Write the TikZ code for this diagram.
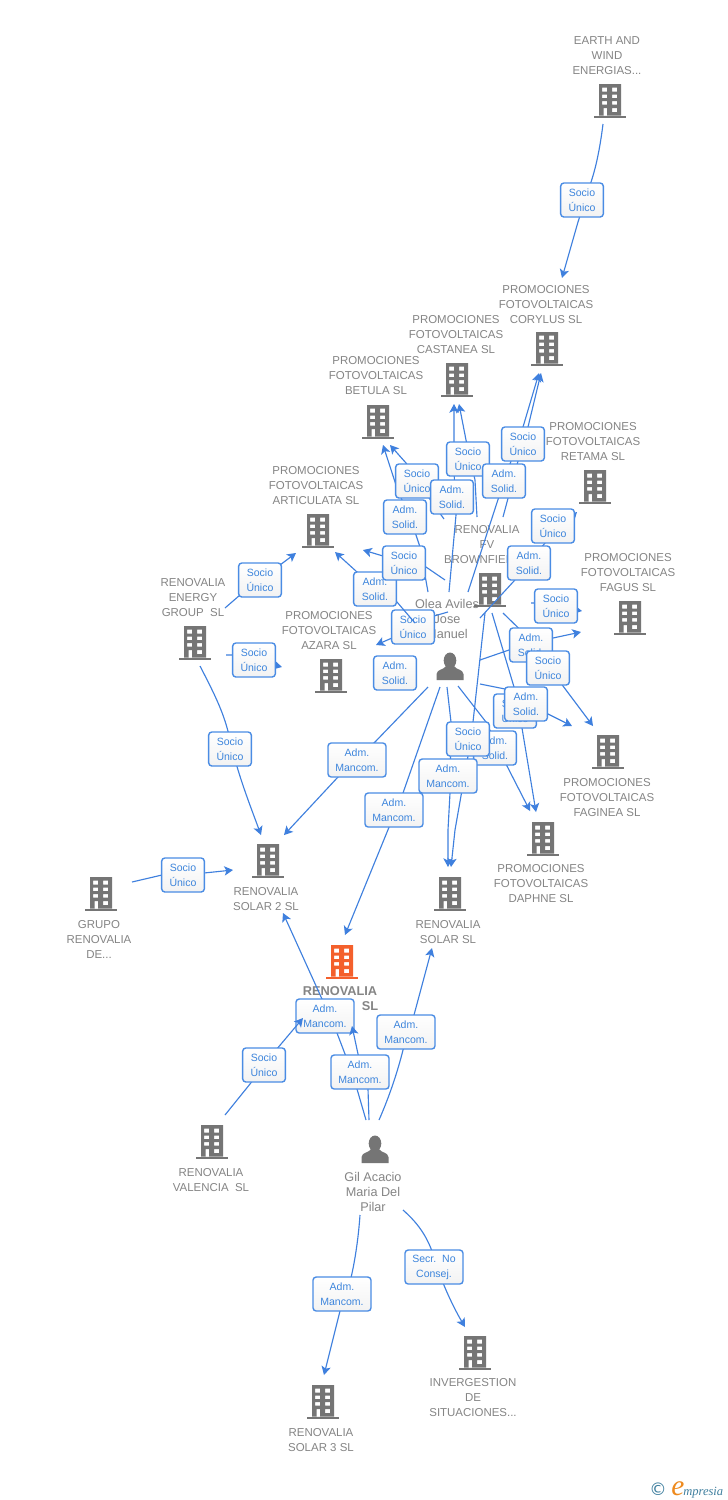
\documentclass[tikz,border=0pt]{standalone}
\usepackage{fontspec}
\setmainfont{Liberation Sans}
\newfontfamily\dejavu{DejaVu Sans}
\newfontfamily\logoserif{Liberation Serif}
\usetikzlibrary{arrows.meta}
\definecolor{linkblue}{HTML}{3F80DE}
\definecolor{boxblue}{HTML}{4A8CE4}
\definecolor{boxtext}{HTML}{3D85DC}
\definecolor{labelgray}{HTML}{858585}
\definecolor{icongray}{HTML}{757575}
\definecolor{mainorange}{HTML}{F4602C}
\definecolor{logoteal}{HTML}{3F7F9F}
\definecolor{logoorange}{HTML}{EE8A1E}
\tikzset{
  x=0.75pt,y=-0.75pt,
  lab/.style={text=labelgray,align=center,inner sep=0pt,yshift=-0.75pt,font=\fontsize{8.6}{11.25}\selectfont},
  perlab/.style={text=labelgray,align=center,inner sep=0pt,yshift=-0.75pt,font=\fontsize{9.5}{11.25}\selectfont},
  mainlab/.style={text=labelgray,inner sep=0pt,font=\fontsize{9.6}{11.25}\selectfont\bfseries},
  link/.style={draw=linkblue,line width=0.85pt,line join=round,-{Stealth[length=6.5pt,width=7pt,inset=1.6pt]}},
  boxn/.style={draw=boxblue,line width=1.05pt,rounded corners=2.4pt,top color=white,bottom color=white!95!black,
     text=boxtext,align=center,inner sep=0pt,minimum height=25.5pt,minimum width=32pt,
     font=\fontsize{7.9}{11.25}\selectfont},
  boxw/.style={boxn,minimum width=43.5pt},
  iconnode/.style={inner sep=0pt,minimum width=24pt,minimum height=25.5pt},
}
\newcommand\bldg[4]{%
  \node[iconnode] (#1) at (#2,#3) {};
  \begin{scope}[shift={(#2,#3)}]
    \fill[#4,even odd rule]
      (-11,-17) rectangle (11,14.5)
      (-8,-13.5) rectangle (-3,-9.5) (2,-13.5) rectangle (7,-9.5)
      (-8,-6.5) rectangle (-3,-3) (2,-6.5) rectangle (7,-3)
      (-8,0) rectangle (-3,3.5) (2,0) rectangle (7,3.5)
      (-6.5,7) rectangle (-3,14.5) (2,7) rectangle (7,11);
    \fill[#4] (-16,14.5) rectangle (16,17);
  \end{scope}}
\newcommand\persona[3]{%
  \node[iconnode] (#1) at (#2,#3) {};
  \begin{scope}[shift={(#2,#3)}]
    \fill[icongray] (0,-5.5) ellipse (6.3 and 8);
    \fill[icongray] (-13.5,14) -- (-13.5,8) .. controls (-13,3) and (-6,4) .. (-4,0)
       -- (4,0) .. controls (6,4) and (13,3) .. (13.5,8) -- (13.5,14) -- cycle;
  \end{scope}}
% id, start, middle path, tip
\newcommand\conn[4]{%
  \coordinate (#1from) at (#2); \coordinate (#1to) at (#4);
  \draw[link] (#1from) #3 (#1to);}
\begin{document}
\begin{tikzpicture}
\useasboundingbox (0,0) rectangle (728,1500);
\fill[white] (0,0) rectangle (728,1500);
% labels
\node[lab] (tearth) at (607,55) {EARTH AND\\WIND\\ENERGIAS...};
\node[lab] (tcorylus) at (546,304) {PROMOCIONES\\FOTOVOLTAICAS\\CORYLUS SL};
\node[lab] (tcastanea) at (456,334) {PROMOCIONES\\FOTOVOLTAICAS\\CASTANEA SL};
\node[lab] (tbetula) at (376,375) {PROMOCIONES\\FOTOVOLTAICAS\\BETULA SL};
\node[lab] (tretama) at (593,441) {PROMOCIONES\\FOTOVOLTAICAS\\RETAMA SL};
\node[lab] (tartic) at (316,485) {PROMOCIONES\\FOTOVOLTAICAS\\ARTICULATA SL};
\node[lab] (tfv) at (487,544) {RENOVALIA\\FV\\BROWNFIELD...};
\node[lab] (tfagus) at (628,572) {PROMOCIONES\\FOTOVOLTAICAS\\FAGUS SL};
\node[lab] (tenergy) at (193,597) {RENOVALIA\\ENERGY\\GROUP\ \ SL};
\node[lab] (tazara) at (329,630) {PROMOCIONES\\FOTOVOLTAICAS\\AZARA SL};
\node[perlab] (tolea) at (447,618) {Olea Aviles\\Jose\\Manuel};
\node[lab] (tfaginea) at (607,797) {PROMOCIONES\\FOTOVOLTAICAS\\FAGINEA SL};
\node[lab] (tdaphne) at (541,883) {PROMOCIONES\\FOTOVOLTAICAS\\DAPHNE SL};
\node[lab] (tsolar2) at (266,898) {RENOVALIA\\SOLAR 2 SL};
\node[lab] (tgrupo) at (99,938) {GRUPO\\RENOVALIA\\DE...};
\node[lab] (tsolar) at (448,931) {RENOVALIA\\SOLAR SL};
\node[mainlab] (tmain) at (340,991) {RENOVALIA};
\node[mainlab] (tmainb) at (370,1006) {SL};
\node[lab] (tvalencia) at (211,1179) {RENOVALIA\\VALENCIA\ \ SL};
\node[perlab] (tgil) at (373,1191) {Gil Acacio\\Maria Del\\Pilar};
\node[lab] (tinver) at (473,1397) {INVERGESTION\\DE\\SITUACIONES...};
\node[lab] (tsolar3) at (321,1439) {RENOVALIA\\SOLAR 3 SL};
% icons
\bldg{earth}{610}{101}{icongray}
\bldg{corylus}{547}{349}{icongray}
\bldg{castanea}{457}{380}{icongray}
\bldg{betula}{378}{422}{icongray}
\bldg{retama}{595}{487}{icongray}
\bldg{artic}{318}{531}{icongray}
\bldg{fv}{490}{590}{icongray}
\bldg{fagus}{630}{618}{icongray}
\bldg{energy}{195}{643}{icongray}
\bldg{azara}{331}{676}{icongray}
\bldg{faginea}{608}{752}{icongray}
\bldg{daphne}{543}{839}{icongray}
\bldg{solartwo}{268}{861}{icongray}
\bldg{grupo}{101}{894}{icongray}
\bldg{solar}{450}{894}{icongray}
\bldg{main}{342}{962}{mainorange}
\bldg{valencia}{212}{1142}{icongray}
\bldg{inver}{475}{1353}{icongray}
\bldg{solarthree}{323}{1402}{icongray}
\persona{olea}{450}{666}
\persona{gil}{375}{1149}
% connectors that run under boxes b12 and b28
\conn{j}{448,612}{-- (434,616) -- (392,638) --}{376,645}
\conn{aa}{366,1120}{-- (357,1089) -- (345,1054) -- (337,1033) -- (322,999) --}{283,913}
\node[boxn] (b12) at (413,627) {Socio\\Único};
\node[boxw] (b28) at (325,1016) {Adm.\\Mancom.};
% connectors
\conn{a}{603,124}{.. controls (600,148) and (596,168) .. (590,185) -- (578,222) --}{562,278}
\conn{b}{503,517}{-- (521,450) -- (528,427) --}{541,373}
\conn{c}{468,592}{-- (504,481) -- (523,427) --}{539,373}
\conn{d}{477,517}{-- (475,480) -- (466,440) --}{459,404}
\conn{e}{449,592}{-- (456,515) -- (454,470) --}{454,404}
\conn{f}{444,519}{-- (417,481) -- (406,463) --}{390,445}
\conn{g}{428,592}{-- (420,547) -- (416,535) -- (396,485) --}{383,445}
\conn{h}{445,580}{-- (426,567) -- (383,556) --}{363,550}
\conn{i}{415,623}{-- (397,602) -- (357,572) --}{335,552}
\conn{k}{480,618}{-- (514,581) -- (545,543) --}{577,512}
\conn{l}{531,603}{-- (534,603) --}{582,611}
\conn{m}{480,660}{-- (509,650) -- (553,638) --}{581,632}
\conn{n}{503,613}{-- (541,650) -- (563,686) --}{593,726}
\conn{o}{480,684}{-- (505,689) -- (548,714) --}{572,726}
\conn{p}{492,613}{-- (514,687) -- (522,728) --}{536,812}
\conn{q}{458,686}{-- (486,722) -- (507,766) --}{530,811}
\conn{r}{485,613}{-- (473,722) -- (468,756) -- (455,830) --}{451,867}
\conn{s}{447,687}{-- (451,722) -- (450,793) -- (448,830) --}{448,867}
\conn{t}{440,687}{-- (403,793) --}{345,935}
\conn{u}{428,687}{-- (375,742) -- (338,777) --}{284,835}
\conn{v}{225,608}{-- (240,595) --}{296,553}
\conn{w}{226,655}{-- (233,655) --}{282,667}
\conn{x}{200,666}{.. controls (215,695) and (225,715) .. (230,740) .. controls (238,775) and (250,805) ..}{261,835}
\conn{y}{132,882}{-- (162,875) -- (204,873) --}{233,870}
\conn{z}{225,1115}{-- (250,1084) -- (276,1050) --}{303,1018}
\conn{ab}{369,1120}{-- (368,1089) -- (358,1054) --}{352,1026}
\conn{ac}{379,1120}{.. controls (390,1095) and (398,1070) .. (403,1050) -- (414,1015) --}{432,948}
\conn{ad}{360,1215}{.. controls (358,1245) and (352,1280) .. (346,1294) -- (340,1311) --}{324,1375}
\conn{ae}{403,1210}{.. controls (420,1225) and (430,1240) .. (437,1267) .. controls (445,1290) and (455,1310) ..}{465,1327}
% boxes
\node[boxn] (b1) at (582,200) {Socio\\Único};
\node[boxn] (b2) at (468,459) {Socio\\Único};
\node[boxn] (b3) at (504,481) {Adm.\\Solid.};
\node[boxn] (b4) at (523,444) {Socio\\Único};
\node[boxn] (b5) at (417,481) {Socio\\Único};
\node[boxn] (b6) at (405,517) {Adm.\\Solid.};
\node[boxn] (b7) at (452,497) {Adm.\\Solid.};
\node[boxn] (b8) at (553,526) {Socio\\Único};
\node[boxn] (b9) at (529,563) {Adm.\\Solid.};
\node[boxn] (b10) at (375,589) {Adm.\\Solid.};
\node[boxn] (b11) at (404,563) {Socio\\Único};
\node[boxn] (b13) at (395,673) {Adm.\\Solid.};
\node[boxn] (b14) at (260,580) {Socio\\Único};
\node[boxn] (b15) at (254,660) {Socio\\Único};
\node[boxn] (b16) at (230,749) {Socio\\Único};
\node[boxn] (b17) at (556,606) {Socio\\Único};
\node[boxn] (b18) at (531,645) {Adm.\\Solid.};
\node[boxn] (b19) at (548,668) {Socio\\Único};
\node[boxn] (b20) at (515,711) {Socio\\Único};
\node[boxn] (b21) at (526,704) {Adm.\\Solid.};
\node[boxn] (b22) at (495,748) {Adm.\\Solid.};
\node[boxn] (b23) at (468,739) {Socio\\Único};
\node[boxw] (b24) at (448,776) {Adm.\\Mancom.};
\node[boxw] (b25) at (394,810) {Adm.\\Mancom.};
\node[boxw] (b26) at (357,760) {Adm.\\Mancom.};
\node[boxn] (b27) at (183,875) {Socio\\Único};
\node[boxw] (b29) at (360,1072) {Adm.\\Mancom.};
\node[boxw] (b30) at (406,1032) {Adm.\\Mancom.};
\node[boxn] (b31) at (264,1065) {Socio\\Único};
\node[boxw] (b32) at (342,1294) {Adm.\\Mancom.};
\node[boxw] (b33) at (434,1267) {Secr.\ \ No\\Consej.};
% logo
\node[inner sep=0pt,text=logoteal,font=\dejavu\fontsize{13}{14}\selectfont] (logoc) at (658,1489) {©};
\node[inner sep=0pt,anchor=base west,text=logoorange,font=\logoserif\itshape\fontsize{22}{22}\selectfont] (logoe) at (671,1495) {e};
\node[inner sep=0pt,anchor=base west,text=logoteal,font=\logoserif\itshape\fontsize{9.4}{12}\selectfont] (logot) at (683,1495) {mpresia};
\end{tikzpicture}
\end{document}
